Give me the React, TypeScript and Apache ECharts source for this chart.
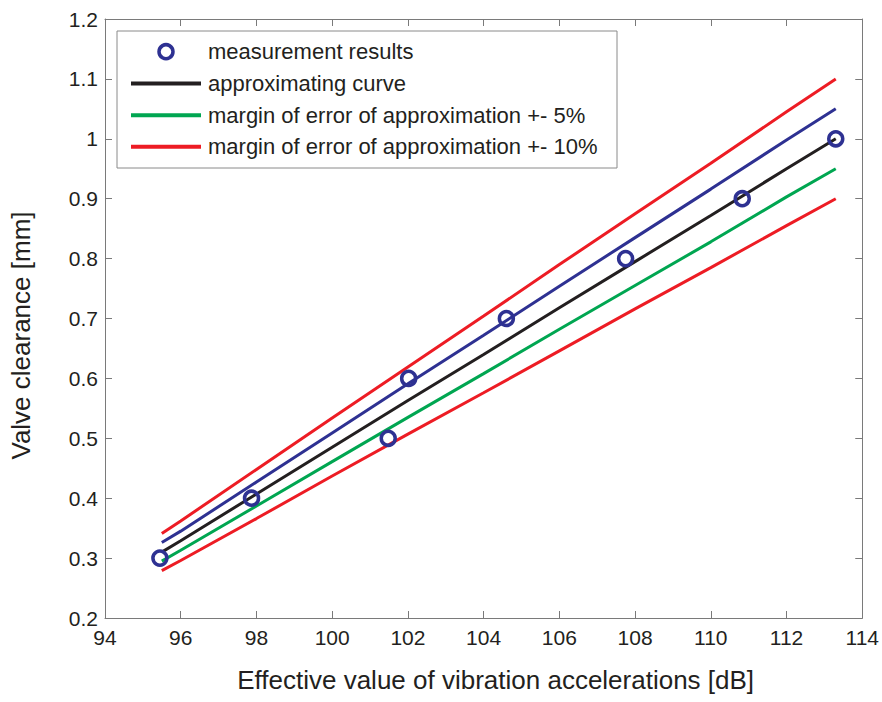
import React, { useEffect, useRef } from "react";
import * as echarts from "echarts";

// Measurement results
const measX = [95.45, 97.87, 101.48, 102.02, 104.6, 107.75, 110.83, 113.3];
const measY = [0.3, 0.4, 0.5, 0.6, 0.7, 0.8, 0.9, 1.0];

// Curves sampled along x
const curveX = [95.5, 96, 98, 100, 102, 104, 106, 108, 110, 112, 113.3];
const approxY = [0.31, 0.329, 0.407, 0.485, 0.563, 0.64, 0.718, 0.795, 0.872, 0.95, 1.0];
const plus5Y = [0.326, 0.345, 0.427, 0.509, 0.591, 0.672, 0.754, 0.835, 0.916, 0.998, 1.05];
const minus5Y = [0.295, 0.313, 0.387, 0.461, 0.535, 0.608, 0.682, 0.755, 0.828, 0.903, 0.95];
const plus10Y = [0.341, 0.362, 0.448, 0.534, 0.619, 0.704, 0.79, 0.875, 0.959, 1.045, 1.1];
const minus10Y = [0.279, 0.296, 0.366, 0.437, 0.507, 0.576, 0.646, 0.716, 0.785, 0.855, 0.9];

const legendNames = [
  "measurement results",
  "approximating curve",
  "margin of error of approximation +- 5%",
  "margin of error of approximation +- 10%",
];

const FONT = "'Liberation Sans', Arial, Helvetica, sans-serif";
const AXIS_COLOR = "#7a7a7a";
const TEXT_COLOR = "#231F20";
const C_BLUE = "#2E3192";
const C_BLACK = "#231F20";
const C_GREEN = "#00A651";
const C_RED = "#ED1C24";

const pairs = (xs: number[], ys: number[]) => xs.map((x, i) => [x, ys[i]]);

export default function App() {
  const ref = useRef<HTMLDivElement>(null);
  useEffect(() => {
    if (!ref.current) return;
    const chart = echarts.init(ref.current, undefined, { renderer: "svg" });
    const lineSeries = (name: string, ys: number[], color: string) => ({
      name,
      type: "line",
      data: pairs(curveX, ys),
      symbol: "none",
      lineStyle: { color, width: 3 },
      itemStyle: { color },
      z: 3,
    });
    const axisCommon = {
      axisLine: { show: true, onZero: false, lineStyle: { color: AXIS_COLOR, width: 1 } },
      axisTick: { show: true, inside: true, length: 7, lineStyle: { color: AXIS_COLOR } },
      splitLine: { show: false },
    };

    // Legend drawn with graphic elements
    const legLeft = 117;
    const legTop = 31;
    const legW = 500;
    const legH = 137;
    const rowY = [51.7, 83.5, 115.2, 146.8];
    const iconX0 = 131;
    const iconX1 = 201;
    const textX = 208;
    const iconColors = [C_BLUE, C_BLACK, C_GREEN, C_RED];
    const legendGraphics: any[] = [
      {
        type: "rect",
        shape: { x: legLeft, y: legTop, width: legW, height: legH },
        style: { fill: "#fff", stroke: "#8a8a8a", lineWidth: 1 },
        z: 10,
      },
    ];
    legendNames.forEach((name, i) => {
      if (i === 0) {
        legendGraphics.push({
          type: "circle",
          shape: { cx: (iconX0 + iconX1) / 2, cy: rowY[i], r: 7 },
          style: { fill: "#fff", stroke: C_BLUE, lineWidth: 3.5 },
          z: 11,
        });
      } else {
        legendGraphics.push({
          type: "line",
          shape: { x1: iconX0, y1: rowY[i], x2: iconX1, y2: rowY[i] },
          style: { stroke: iconColors[i], lineWidth: 4 },
          z: 11,
        });
      }
      legendGraphics.push({
        type: "text",
        x: textX,
        y: rowY[i],
        style: {
          text: name,
          fontSize: 22,
          fontFamily: FONT,
          fill: TEXT_COLOR,
          verticalAlign: "middle",
          align: "left",
        },
        z: 11,
      });
    });

    chart.setOption({
      animation: false,
      backgroundColor: "#fff",
      grid: { left: 105, right: 19, top: 19, bottom: 84, containLabel: false },
      graphic: legendGraphics,
      xAxis: [
        {
          type: "value",
          min: 94,
          max: 114,
          interval: 2,
          position: "bottom",
          ...axisCommon,
          axisLabel: { fontSize: 21, fontFamily: FONT, color: TEXT_COLOR, margin: 9 },
          name: "Effective value of vibration accelerations [dB]",
          nameLocation: "middle",
          nameGap: 49,
          nameTextStyle: { fontSize: 26, fontFamily: FONT, color: TEXT_COLOR, padding: [0, 0, 0, 24] },
        },
        {
          type: "value",
          min: 94,
          max: 114,
          interval: 2,
          position: "top",
          ...axisCommon,
          axisLabel: { show: false },
        },
      ],
      yAxis: [
        {
          type: "value",
          min: 0.2,
          max: 1.2,
          interval: 0.1,
          position: "left",
          ...axisCommon,
          axisLabel: {
            fontSize: 21,
            fontFamily: FONT,
            color: TEXT_COLOR,
            margin: 7,
            formatter: (v: number) => String(+v.toFixed(1)),
          },
          name: "Valve clearance [mm]",
          nameLocation: "middle",
          nameGap: 71,
          nameTextStyle: { fontSize: 26, fontFamily: FONT, color: TEXT_COLOR, padding: [0, 34, 0, 0] },
        },
        {
          type: "value",
          min: 0.2,
          max: 1.2,
          interval: 0.1,
          position: "right",
          ...axisCommon,
          axisLabel: { show: false },
        },
      ],
      series: [
        {
          name: legendNames[0],
          type: "scatter",
          data: pairs(measX, measY),
          symbol: "circle",
          symbolSize: 14,
          itemStyle: { color: "rgba(255,255,255,0)", borderColor: C_BLUE, borderWidth: 3.5, opacity: 1 },
          z: 4,
        },
        lineSeries("margin of error of approximation + 5%", plus5Y, C_BLUE),
        lineSeries(legendNames[1], approxY, C_BLACK),
        lineSeries(legendNames[2], minus5Y, C_GREEN),
        lineSeries(legendNames[3], plus10Y, C_RED),
        lineSeries(legendNames[3], minus10Y, C_RED),
      ],
    });
    return () => chart.dispose();
  }, []);
  return (
    <div
      ref={ref}
      style={{ position: "fixed", left: 0, top: 0, width: 882, height: 702, background: "#fff" }}
    />
  );
}
